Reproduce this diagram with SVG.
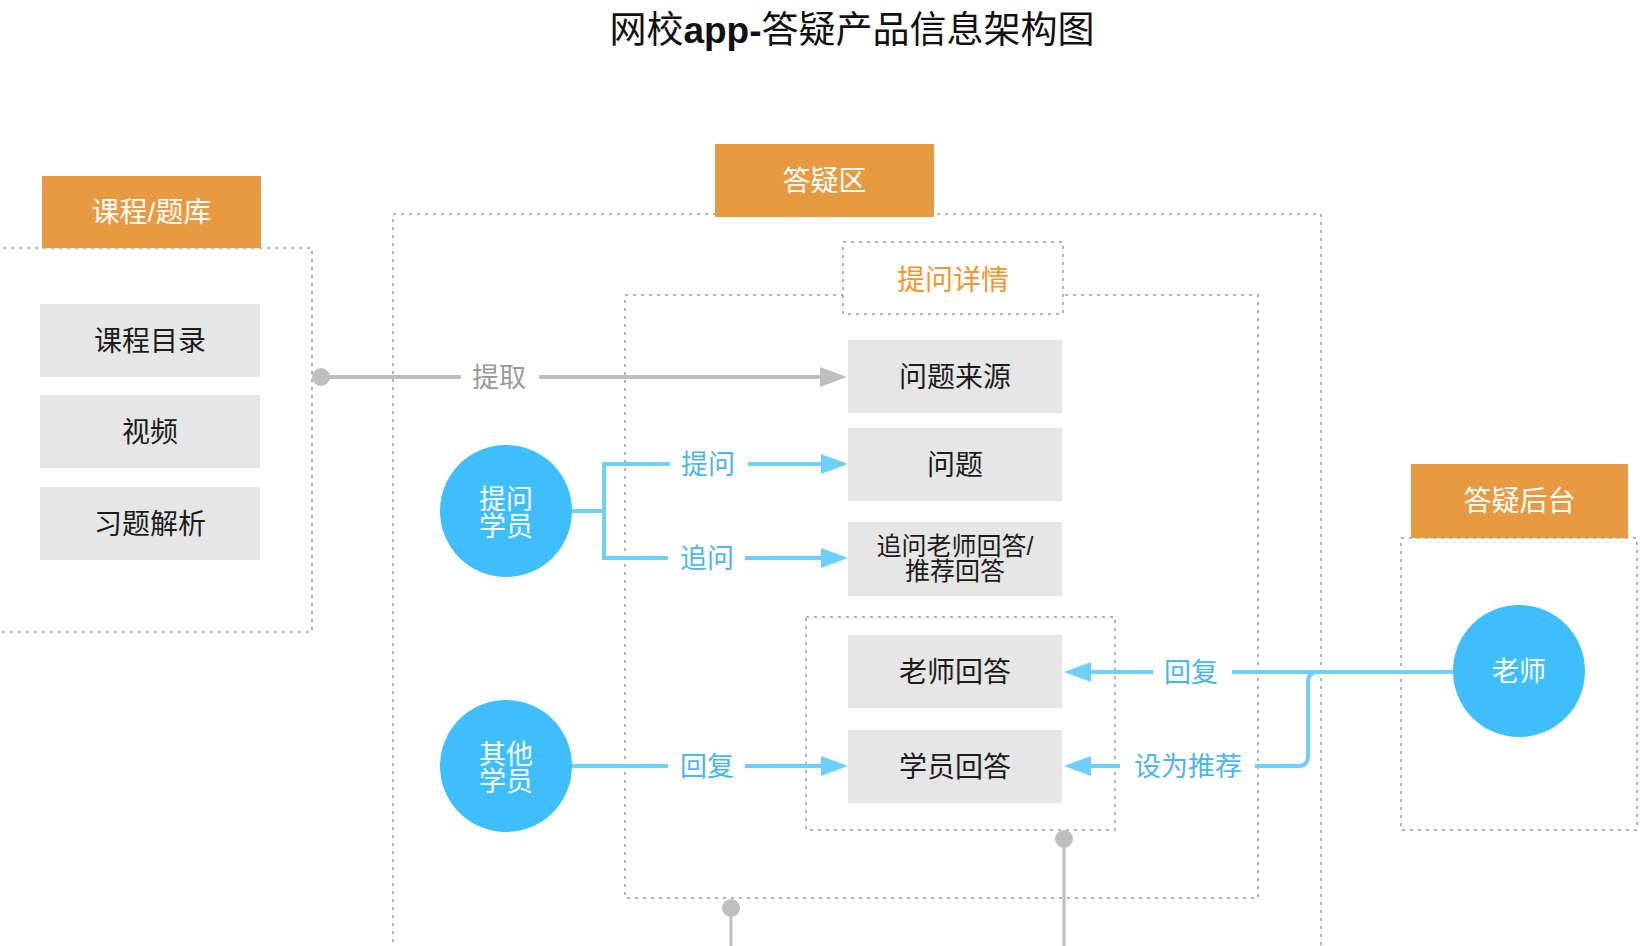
<svg xmlns="http://www.w3.org/2000/svg" width="1652" height="946" viewBox="0 0 1652 946">
<defs>
<style>
text{font-family:"Liberation Sans","Noto Sans CJK SC",sans-serif;}
.title{font-size:37px;fill:#111;text-anchor:middle;}
.dot{fill:none;stroke:#9E9E9E;stroke-width:1.6;stroke-dasharray:3 5;}
.dotw{fill:#fff;stroke:#9E9E9E;stroke-width:1.6;stroke-dasharray:3 5;}
.orange{fill:#E79A41;}
.otxt{fill:#fff;font-size:28px;text-anchor:middle;}
.gbox{fill:#E6E6E6;}
.gtxt{fill:#1C1C1C;font-size:28px;text-anchor:middle;}
.circ{fill:#3EBFFC;}
.ctxt{fill:#fff;font-size:27px;text-anchor:middle;}
.bl{fill:none;stroke:#6FCFFB;stroke-width:4;}
.btxt{fill:#4BB6EC;font-size:27px;text-anchor:middle;}
.gl{fill:none;stroke:#BEBEBE;stroke-width:4;}
.gtl{fill:none;stroke:#BEBEBE;stroke-width:3;}
.gdot{fill:#BEBEBE;}
.glab{fill:#999;font-size:27px;text-anchor:middle;}
</style>
<marker id="ab" viewBox="0 0 27 20" markerWidth="27" markerHeight="20" refX="17" refY="10" orient="auto" markerUnits="userSpaceOnUse"><path d="M0,0 L27,10 L0,20 z" fill="#6FCFFB"/></marker>
<marker id="ag" viewBox="0 0 27 20" markerWidth="27" markerHeight="20" refX="17" refY="10" orient="auto" markerUnits="userSpaceOnUse"><path d="M0,0 L27,10 L0,20 z" fill="#BEBEBE"/></marker>
</defs>
<rect width="1652" height="946" fill="#fff"/>

<text id="title" class="title" x="852" y="43">网校<tspan font-weight="bold">app-</tspan>答疑产品信息架构图</text>

<g id="containers">
<rect id="c-course" class="dot" x="-5" y="248" width="317" height="384"/>
<rect id="c-qa" class="dot" x="393" y="214" width="928" height="760"/>
<rect id="c-detail" class="dot" x="625" y="295" width="633" height="603"/>
<rect id="c-answers" class="dot" x="806" y="617" width="309" height="213"/>
<rect id="c-backend" class="dot" x="1401" y="538" width="236" height="292"/>
</g>

<g id="connectors">
<circle class="gdot" cx="321" cy="377" r="9"/>
<path class="gl" d="M321,377 H461"/>
<text class="glab" x="499" y="387">提取</text>
<path class="gl" d="M539,377 H837" marker-end="url(#ag)"/>
<circle class="gdot" cx="1064" cy="839" r="9"/>
<path class="gtl" d="M1064,839 V946"/>
<circle class="gdot" cx="731" cy="908" r="9"/>
<path class="gtl" d="M731,908 V946"/>

<path class="bl" d="M572,511 H604 M604,464 V558 M602,464 H670 M602,558 H668"/>
<text class="btxt" x="708" y="474">提问</text>
<path class="bl" d="M748,464 H838" marker-end="url(#ab)"/>
<text class="btxt" x="707" y="568">追问</text>
<path class="bl" d="M745,558 H838" marker-end="url(#ab)"/>

<path class="bl" d="M572,766 H668"/>
<text class="btxt" x="707" y="776">回复</text>
<path class="bl" d="M745,766 H838" marker-end="url(#ab)"/>

<path class="bl" d="M1453,672 H1232"/>
<text class="btxt" x="1191" y="682">回复</text>
<path class="bl" d="M1153,672 H1074" marker-end="url(#ab)"/>
<path class="bl" d="M1318,672 Q1308,672 1308,682 V756 Q1308,766 1298,766 H1255"/>
<text class="btxt" x="1188" y="776">设为推荐</text>
<path class="bl" d="M1120,766 H1074" marker-end="url(#ab)"/>
</g>

<g id="n-course">
<rect class="orange" x="42" y="176" width="219" height="72"/>
<text class="otxt" x="151.5" y="222">课程/题库</text>
</g>
<g id="n-catalog">
<rect class="gbox" x="40" y="304" width="220" height="73"/>
<text class="gtxt" x="150" y="351">课程目录</text>
</g>
<g id="n-video">
<rect class="gbox" x="40" y="395" width="220" height="73"/>
<text class="gtxt" x="150" y="442">视频</text>
</g>
<g id="n-exercise">
<rect class="gbox" x="40" y="487" width="220" height="73"/>
<text class="gtxt" x="150" y="534">习题解析</text>
</g>

<g id="n-qa">
<rect class="orange" x="715" y="144" width="219" height="73"/>
<text class="otxt" x="824.5" y="191">答疑区</text>
</g>
<g id="n-detail">
<rect class="dotw" x="843" y="242" width="220" height="72"/>
<text x="953" y="290" fill="#F0962E" font-size="28" text-anchor="middle">提问详情</text>
</g>
<g id="n-source">
<rect class="gbox" x="848" y="340" width="214" height="73"/>
<text class="gtxt" x="955" y="387">问题来源</text>
</g>
<g id="n-question">
<rect class="gbox" x="848" y="428" width="214" height="73"/>
<text class="gtxt" x="955" y="475">问题</text>
</g>
<g id="n-followup">
<rect class="gbox" x="848" y="522" width="214" height="74"/>
<text class="gtxt" x="955" y="555" style="font-size:25px">追问老师回答/</text>
<text class="gtxt" x="955" y="580" style="font-size:25px">推荐回答</text>
</g>
<g id="n-teacher-answer">
<rect class="gbox" x="848" y="635" width="214" height="73"/>
<text class="gtxt" x="955" y="682">老师回答</text>
</g>
<g id="n-student-answer">
<rect class="gbox" x="848" y="730" width="214" height="73"/>
<text class="gtxt" x="955" y="777">学员回答</text>
</g>

<g id="n-asker">
<circle class="circ" cx="506" cy="511" r="66"/>
<text class="ctxt" x="506" y="509">提问</text>
<text class="ctxt" x="506" y="536">学员</text>
</g>
<g id="n-others">
<circle class="circ" cx="506" cy="766" r="66"/>
<text class="ctxt" x="506" y="764">其他</text>
<text class="ctxt" x="506" y="791">学员</text>
</g>

<g id="n-backend">
<rect class="orange" x="1411" y="464" width="217" height="74"/>
<text class="otxt" x="1519.5" y="511">答疑后台</text>
</g>
<g id="n-teacher">
<circle class="circ" cx="1519" cy="671" r="66"/>
<text class="ctxt" x="1519" y="681">老师</text>
</g>
</svg>
